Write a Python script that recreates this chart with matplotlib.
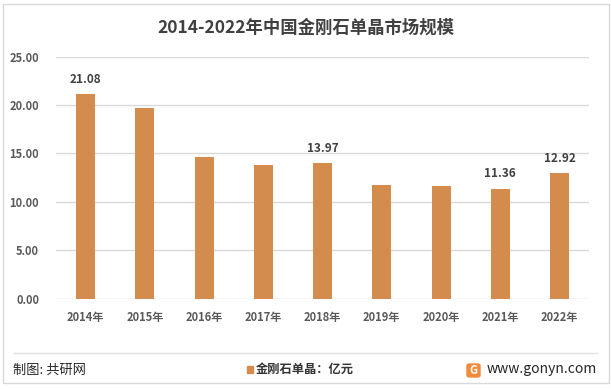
import numpy as np
import matplotlib
matplotlib.use('Agg')
import matplotlib.pyplot as plt
from matplotlib.patches import Rectangle, FancyBboxPatch

plt.rcParams['font.family'] = ['Noto Sans CJK SC', 'DejaVu Sans']

years = ['2014年', '2015年', '2016年', '2017年', '2018年', '2019年', '2020年', '2021年', '2022年']
values = [21.08, 19.7, 14.6, 13.8, 13.97, 11.7, 11.6, 11.36, 12.92]
labelled = [0, 4, 7, 8]
yticks = [0, 5, 10, 15, 20, 25]

bar_color = '#D38B4E'
text_grey = '#595959'

fig = plt.figure(figsize=(6.11, 3.89), dpi=100)
W, H = 611, 389

# outer frame
fig.patches.append(Rectangle((2.5 / W, 6 / H), 606 / W, 379 / H, transform=fig.transFigure,
                             fill=False, edgecolor='#d9d9d9', lw=1.0))

ax = fig.add_axes([55.9 / W, 90.5 / H, 533.3 / W, 242 / H])
x = np.arange(len(years))
ax.bar(x, values, width=0.32, color=bar_color, zorder=3)
ax.set_xlim(-0.5, len(years) - 0.5)
ax.set_ylim(0, 25)
ax.set_yticks(yticks)
ax.set_yticklabels([f'{v:.2f}' for v in yticks])
ax.set_xticks(x)
ax.set_xticklabels(years)
ax.grid(axis='y', color='#d9d9d9', lw=1.0, zorder=0)
for s in ax.spines.values():
    s.set_visible(False)
ax.tick_params(axis='both', length=0, labelcolor=text_grey, labelsize=8)
ax.tick_params(axis='x', pad=9)
ax.tick_params(axis='y', pad=12)
for lab in ax.get_xticklabels() + ax.get_yticklabels():
    lab.set_fontweight('bold')

for i in labelled:
    ax.annotate(f'{values[i]:.2f}', (x[i], values[i]), xytext=(0, 6), textcoords='offset points',
                ha='center', va='bottom', fontsize=8.5, fontweight='bold', color='#404040')

fig.text(0.5, 1 - 28 / H, '2014-2022年中国金刚石单晶市场规模', ha='center', va='center',
         fontsize=12.5, fontweight='bold', color='#404040')

# footer
fig.add_artist(plt.Line2D([14 / W, 597 / W], [1 - 352.5 / H, 1 - 352.5 / H], color='#e0e0e0', lw=1.0))
fig.text(13 / W, 1 - 370 / H, '制图: 共研网', ha='left', va='center', fontsize=9.5, color='#262626')
fig.patches.append(Rectangle((247 / W, 1 - 373 / H), 6 / W, 7 / H, transform=fig.transFigure,
                             color=bar_color))
fig.text(256 / W, 1 - 369.5 / H, '金刚石单晶：亿元', ha='left', va='center', fontsize=8.8,
         fontweight='bold', color='#333333')
fig.patches.append(FancyBboxPatch((467 / W, 1 - 377 / H), 13 / W, 13 / H, transform=fig.transFigure,
                                  boxstyle='round,pad=0,rounding_size=0.004', color='#F28B3C'))
fig.text(473.5 / W, 1 - 370.5 / H, 'G', ha='center', va='center', fontsize=8, fontweight='bold', color='white')
fig.text(597 / W, 1 - 369 / H, 'www.gonyn.com', ha='right', va='center', fontsize=10, color='#262626')

fig.savefig('out.png', dpi=100)
